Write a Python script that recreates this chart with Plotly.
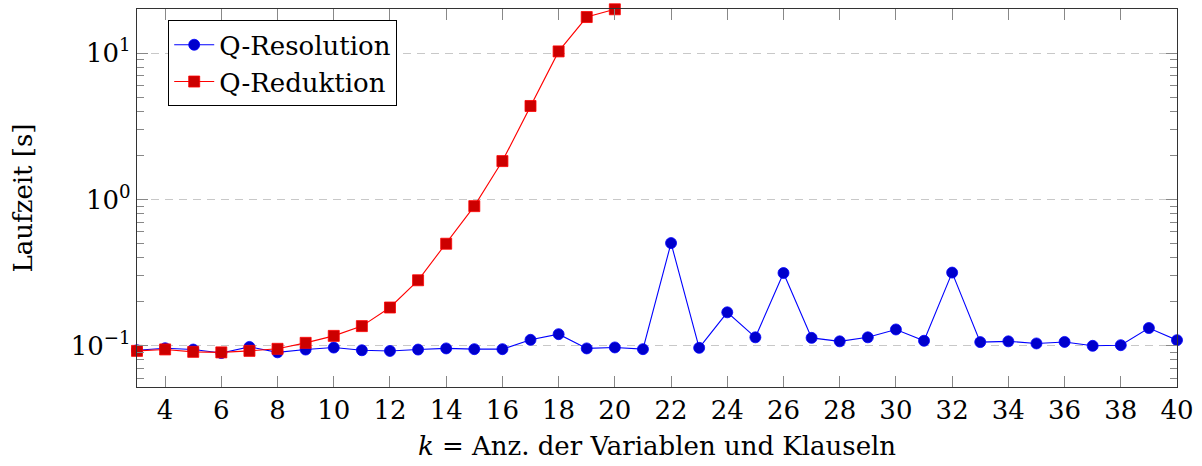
import plotly.graph_objects as go

k_res = list(range(3, 41))
t_res = [0.093, 0.096, 0.094, 0.089, 0.098, 0.090, 0.094, 0.097, 0.093, 0.092,
         0.094, 0.0957, 0.0946, 0.0946, 0.1096, 0.1198, 0.0957, 0.0972, 0.0946,
         0.503, 0.0966, 0.169, 0.114, 0.314, 0.113, 0.107, 0.114, 0.129, 0.108,
         0.316, 0.1057, 0.107, 0.1035, 0.106, 0.0997, 0.1007, 0.132, 0.109]

k_red = list(range(3, 21))
t_red = [0.0921, 0.0942, 0.0907, 0.0899, 0.0921, 0.0951, 0.1045, 0.1166, 0.136,
         0.1823, 0.28, 0.498, 0.90, 1.83, 4.36, 10.3, 17.7, 20.0]

x_ticks = list(range(4, 41, 2))
y_tickvals = [0.1, 1, 10]
y_ticktext = ["10<sup>−1</sup>", "10<sup>0</sup>", "10<sup>1</sup>"]

FONT = "DejaVu Serif"
FS = 26

fig = go.Figure()
fig.add_trace(go.Scatter(
    x=k_res, y=t_res, mode="lines+markers", name="Q-Resolution",
    line=dict(color="#0000FF", width=1.1),
    marker=dict(symbol="circle", size=11, color="#0000CC",
                line=dict(color="#0000FF", width=0.8)),
    cliponaxis=False,
))
fig.add_trace(go.Scatter(
    x=k_red, y=t_red, mode="lines+markers", name="Q-Reduktion",
    line=dict(color="#FF0000", width=1.1),
    marker=dict(symbol="square", size=11, color="#CC0000",
                line=dict(color="#FF0000", width=0.8)),
    cliponaxis=False,
))

fig.update_layout(
    width=1202, height=466,
    margin=dict(l=137, r=25, t=9, b=79),
    paper_bgcolor="white", plot_bgcolor="white",
    font=dict(family=FONT, size=FS, color="black"),
    showlegend=True,
    legend=dict(x=0.03, y=0.97, xanchor="left", yanchor="top",
                bgcolor="white", bordercolor="black", borderwidth=1,
                font=dict(family=FONT, size=FS), tracegroupgap=0,
                itemwidth=40),
    xaxis=dict(
        range=[3, 40], tickmode="array", tickvals=x_ticks,
        ticks="inside", ticklen=11, tickcolor="#888888", tickwidth=1,
        showline=True, linecolor="#333333", linewidth=1.3, mirror="allticks",
        showgrid=False, zeroline=False,
        tickfont=dict(family=FONT, size=FS),
        title=dict(text="<i>k</i> = Anz. der Variablen und Klauseln",
                   font=dict(family=FONT, size=FS), standoff=12),
    ),
    yaxis=dict(
        type="log", range=[-1.283, 1.303],
        tickmode="array", tickvals=y_tickvals, ticktext=y_ticktext,
        ticks="inside", ticklen=11, tickcolor="#888888", tickwidth=1,
        showline=True, linecolor="#333333", linewidth=1.3, mirror="allticks",
        showgrid=True, gridcolor="#C8C8C8", gridwidth=1, griddash="8px,6px",
        zeroline=False,
        tickfont=dict(family=FONT, size=FS),
        minor=dict(dtick="D1", ticks="inside", ticklen=7, tickcolor="#888888",
                   tickwidth=1, showgrid=False),
        title=dict(text="Laufzeit [s]", font=dict(family=FONT, size=FS),
                   standoff=30),
    ),
)

fig.write_html("out.html")
